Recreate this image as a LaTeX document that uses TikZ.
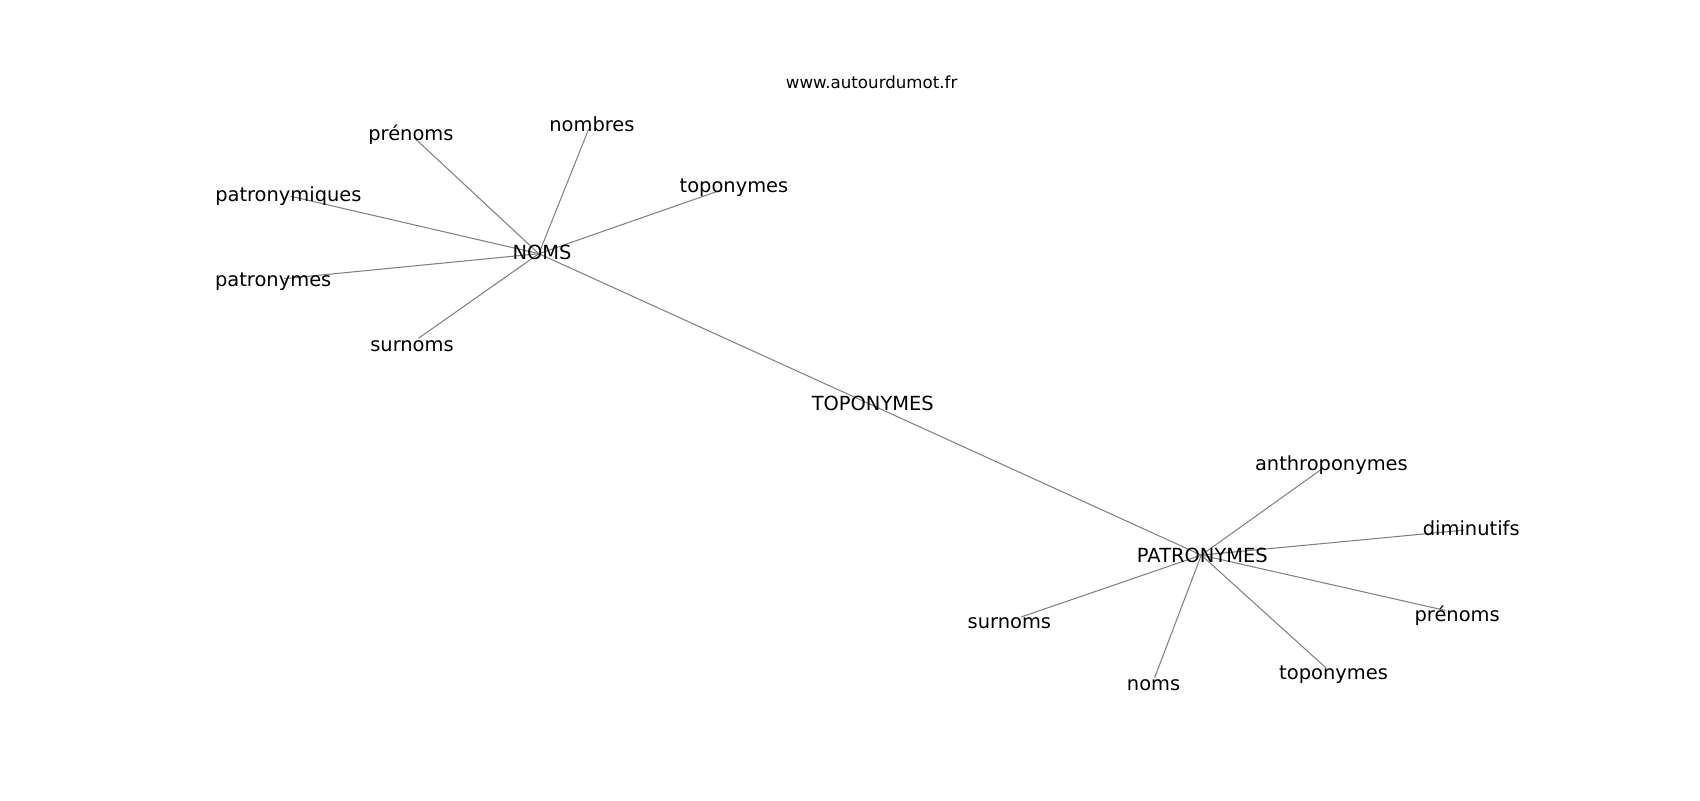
\documentclass[tikz,border=0pt]{standalone}
\usepackage{fontspec}
\setmainfont{DejaVu Sans}
\begin{document}
\begin{tikzpicture}[x=0.7806pt,y=-0.7806pt,
  lbl/.style={inner sep=0pt,anchor=center,font=\fontsize{14}{16}\selectfont,text height=10.6pt,text depth=2.9pt},
  wm/.style={inner sep=0pt,anchor=center,font=\fontsize{12}{14}\selectfont,text height=9.1pt,text depth=2.5pt},
  edge/.style={draw=black!50,line width=0.75pt}]
\useasboundingbox (0,0) rectangle (1568,738);
% hubs and leaf positions
\coordinate (hNOMS) at (497,234);
\coordinate (hTOPO) at (804,373.5);
\coordinate (hPAT) at (1108,512);
\coordinate (eNpren) at (382,127);
\coordinate (eNnomb) at (543,119);
\coordinate (eNtopo) at (666,175);
\coordinate (eNpatq) at (268,181);
\coordinate (eNpats) at (262,257);
\coordinate (eNsurn) at (386,312);
\coordinate (ePanth) at (1220,432);
\coordinate (ePdimi) at (1350,489);
\coordinate (ePpren) at (1333,563);
\coordinate (ePtopo) at (1223,616);
\coordinate (ePnoms) at (1065,625);
\coordinate (ePsurn) at (942,569);
% edges
\draw[edge] (hTOPO) -- (hNOMS);
\draw[edge] (hTOPO) -- (hPAT);
\foreach \e in {eNpren,eNnomb,eNtopo,eNpatq,eNpats,eNsurn} \draw[edge] (hNOMS) -- (\e);
\foreach \e in {ePanth,ePdimi,ePpren,ePtopo,ePnoms,ePsurn} \draw[edge] (hPAT) -- (\e);
% labels
\node[wm] (wmark) at (804,77.5) {www.autourdumot.fr};
\node[lbl] (NOMS) at (500,234) {NOMS};
\node[lbl] (TOPO) at (805,374) {TOPONYMES};
\node[lbl] (PAT) at (1109,514) {PATRONYMES};
\node[lbl] (Npren) at (379,125) {prénoms};
\node[lbl] (Nnomb) at (546,116) {nombres};
\node[lbl] (Ntopo) at (677,173) {toponymes};
\node[lbl] (Npatq) at (266,181) {patronymiques};
\node[lbl] (Npats) at (252,259) {patronymes};
\node[lbl] (Nsurn) at (380,319) {surnoms};
\node[lbl] (Panth) at (1228,429) {anthroponymes};
\node[lbl] (Pdimi) at (1357,489) {diminutifs};
\node[lbl] (Ppren) at (1344,568) {prénoms};
\node[lbl] (Ptopo) at (1230,622) {toponymes};
\node[lbl] (Pnoms) at (1064,632) {noms};
\node[lbl] (Psurn) at (931,575) {surnoms};
\end{tikzpicture}
\end{document}
